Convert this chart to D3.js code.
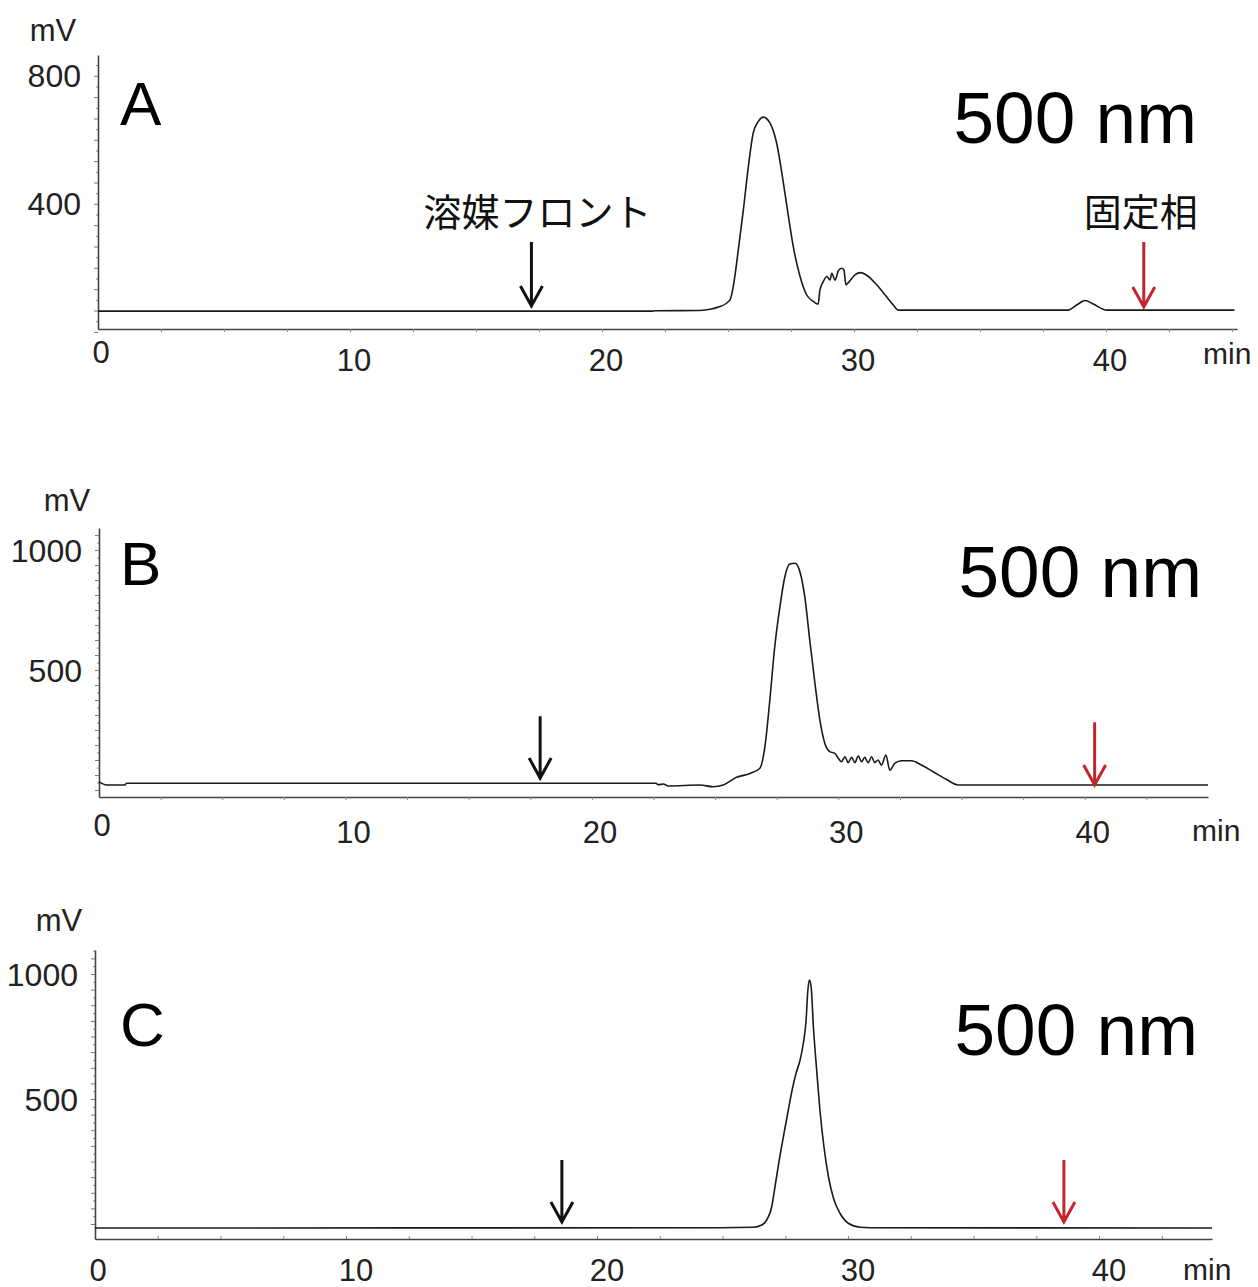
<!DOCTYPE html>
<html>
<head>
<meta charset="utf-8">
<script src="https://cdn.jsdelivr.net/npm/d3@7"></script>
<style>
  body { margin: 0; background: #fff; overflow: hidden; }
  svg { display: block; font-family: "Liberation Sans", Arial, sans-serif; }
</style>
</head>
<body>
<div id="chart"></div>
<script>
// chromatogram A (time in min, signal in mV)
var timeA = [0, 22.0, 22.1, 23.89, 24.68, 25.08, 25.21, 25.41, 25.61, 25.81, 26.0, 26.2, 26.4, 26.67, 26.93,
  27.2, 27.4, 27.59, 27.86, 28.12, 28.39, 28.58, 28.65, 28.78, 28.92, 29.05, 29.12, 29.25, 29.38, 29.51,
  29.6, 29.68, 29.81, 30.04, 30.26, 30.57, 30.9, 31.23, 31.56, 31.76, 38.5, 38.84, 39.17, 39.5, 40.03, 45.1];
var mvA = [65, 65, 66, 67, 79, 100, 142, 256, 381, 517, 621, 657, 671, 652, 590,
  465, 360, 267, 173, 116, 95, 87, 131, 157, 173, 162, 183, 162, 191, 199,
  194, 147, 157, 178, 185, 173, 147, 116, 84, 68, 68, 84, 98, 87, 68, 68];

// chromatogram B
var timeB = [0, 0.31, 1.05, 1.12, 22.6, 22.7, 22.9, 23.1, 24.38, 24.92, 25.33, 25.87, 26.41, 26.81, 27.02,
  27.22, 27.42, 27.63, 27.83, 28.03, 28.24, 28.44, 28.64, 28.84, 29.05, 29.25, 29.45, 29.65, 29.86,
  30.0, 30.13, 30.27, 30.4, 30.54, 30.67, 30.81, 30.94, 31.07, 31.21, 31.35, 31.48, 31.61, 31.75,
  31.93, 32.09, 32.29, 32.56, 32.97, 33.37, 33.85, 34.39, 34.86, 45];
var mvB = [35, 21, 21, 28, 28, 22, 25, 17, 21, 14, 21, 53, 69, 90, 180,
  375, 597, 764, 889, 942, 945, 910, 805, 625, 445, 292, 195, 160, 153,
  132, 118, 139, 114, 136, 114, 142, 118, 136, 114, 139, 114, 125, 104,
  146, 83, 111, 122, 122, 104, 76, 44, 21, 21];

// chromatogram C
var timeC = [0, 24.9, 26.23, 26.56, 26.76, 26.96, 27.09, 27.26, 27.45, 27.62, 27.8, 27.93, 28.09, 28.22,
  28.33, 28.39, 28.46, 28.53, 28.62, 28.75, 28.88, 29.04, 29.22, 29.42, 29.68, 30.01, 30.48, 30.88, 44.5];
var mvC = [-16, -15, -13, -4, 16, 69, 149, 256, 363, 456, 549, 603, 656, 723,
  816, 923, 976, 949, 789, 616, 456, 309, 189, 103, 43, 3, -13, -15, -16];

var xTickLabels = [0, 10, 20, 30, 40];
var yTicksA = [400, 800];
var yTicksB = [500, 1000];
var yTicksC = [500, 1000];
var panelNames = ["A", "B", "C"];
var waveLabel = "500 nm";
var frontLabel = "溶媒フロント";
var phaseLabel = "固定相";
// arrows: [black time, red time]
var arrowTimesA = [17.2, 41.5];
var arrowTimesB = [17.9, 40.4];
var arrowTimesC = [18.6, 38.6];

var width = 1258, height = 1287;
var svg = d3.select("#chart").append("svg")
    .attr("width", width)
    .attr("height", height);

var panels = [
  { t: timeA, v: mvA, yTicks: yTicksA, arrows: arrowTimesA, name: panelNames[0],
    xDom: [0, 45.2], xRange: [98, 1237], yDom: [9, 865], yRange: [329, 55], yMinor: 400 / 6,
    tipMv: [81, 78], topMv: [281, 281], tickDir: 1, labShift: 4,
    mvPos: [53, 30], nameY: 125, waveY: 143, waveX: 1197, xLabY: 371, zeroY: 363, minX: 1203, minY: 364,
    showText: true },
  { t: timeB, v: mvB, yTicks: yTicksB, arrows: arrowTimesB, name: panelNames[1],
    xDom: [0, 45], xRange: [99, 1208], yDom: [-29, 1092], yRange: [797, 528], yMinor: 62.5,
    tipMv: [50, 21], topMv: [308, 283], tickDir: 1, labShift: 8,
    mvPos: [67, 500], nameY: 585, waveY: 597, waveX: 1202, xLabY: 843, zeroY: 836, minX: 1192, minY: 841,
    showText: false },
  { t: timeC, v: mvC, yTicks: yTicksC, arrows: arrowTimesC, name: panelNames[2],
    xDom: [0, 44.5], xRange: [95, 1212], yDom: [-60, 1096], yRange: [1239, 950], yMinor: 62.5,
    tipMv: [8, 8], topMv: [256, 256], tickDir: -1, labShift: 10,
    mvPos: [59, 920], nameY: 1046, waveY: 1055, waveX: 1198, xLabY: 1281, zeroY: 1281, minX: 1183, minY: 1280,
    showText: false }
];

panels.forEach(function(p) {
  var x = d3.scaleLinear().domain(p.xDom).range(p.xRange);
  var y = d3.scaleLinear().domain(p.yDom).range(p.yRange);
  var g = svg.append("g");

  // minor ticks on y axis
  var yMinorVals = d3.range(0, p.yDom[1], p.yMinor);
  var yMicroVals = d3.range(p.yMinor / 2, p.yDom[1], p.yMinor);
  g.append("g")
      .attr("transform", "translate(" + p.xRange[0] + ",0)")
      .call(d3.axisLeft(y).tickValues(yMicroVals).tickSize(2).tickFormat(""))
      .call(function(a) { a.select(".domain").remove(); })
      .selectAll("line").attr("stroke", "#888");
  g.append("g")
      .attr("transform", "translate(" + p.xRange[0] + ",0)")
      .call(d3.axisLeft(y).tickValues(yMinorVals).tickSize(4).tickSizeOuter(0).tickFormat(""))
      .call(function(a) {
        a.select(".domain").attr("stroke", "#444").attr("stroke-width", 1.6);
        a.selectAll("line").attr("stroke", "#777");
      });

  // x axis
  var xMinorVals = d3.range(2.5, p.xDom[1], 2.5);
  var xAxis = p.tickDir > 0 ? d3.axisBottom(x) : d3.axisTop(x);
  g.append("g")
      .attr("transform", "translate(0," + p.yRange[0] + ")")
      .call(xAxis.tickValues(xMinorVals).tickSize(3).tickSizeOuter(0).tickFormat(""))
      .call(function(a) {
        a.select(".domain").attr("stroke", "#444").attr("stroke-width", 1.6);
        a.selectAll("line").attr("stroke", "#888");
      });

  // tick labels
  g.selectAll(".ylab")
    .data(p.yTicks)
    .enter().append("text")
      .attr("x", p.xRange[0] - 17)
      .attr("y", function(d) { return y(d); })
      .attr("dy", "0.36em")
      .attr("text-anchor", "end")
      .attr("font-size", 32)
      .attr("fill", "#222")
      .text(function(d) { return d; });

  g.selectAll(".xlab")
    .data(xTickLabels)
    .enter().append("text")
      .attr("x", function(d) { return x(d) + (d === 0 ? 3 : p.labShift); })
      .attr("y", function(d) { return d === 0 ? p.zeroY : p.xLabY; })
      .attr("text-anchor", "middle")
      .attr("font-size", 31)
      .attr("fill", "#222")
      .text(function(d) { return d; });

  g.append("text")
      .attr("x", p.minX)
      .attr("y", p.minY)
      .attr("font-size", 30)
      .attr("fill", "#222")
      .text("min");

  g.append("text")
      .attr("x", p.mvPos[0])
      .attr("y", p.mvPos[1])
      .attr("dy", "0.36em")
      .attr("text-anchor", "middle")
      .attr("font-size", 31)
      .attr("fill", "#222")
      .text("mV");

  // the trace
  var pts = p.t.map(function(d, i) { return [d, p.v[i]]; });
  var line = d3.line()
      .x(function(d) { return x(d[0]); })
      .y(function(d) { return y(d[1]); })
      .curve(d3.curveMonotoneX);
  g.append("path")
      .datum(pts)
      .attr("d", line)
      .attr("fill", "none")
      .attr("stroke", "#1a1a1a")
      .attr("stroke-width", 1.6);

  // panel letter and wavelength
  g.append("text")
      .attr("x", 120)
      .attr("y", p.nameY)
      .attr("font-size", 62)
      .attr("fill", "#000")
      .text(p.name);
  g.append("text")
      .attr("x", p.waveX)
      .attr("y", p.waveY)
      .attr("text-anchor", "end")
      .attr("font-size", 73)
      .attr("fill", "#000")
      .text(waveLabel);

  // arrows
  var colors = ["#111", "#c1272d"];
  p.arrows.forEach(function(t, i) {
    var ax = x(t), tip = y(p.tipMv[i]), top = y(p.topMv[i]);
    g.append("path")
        .attr("d", "M" + ax + "," + top + "L" + ax + "," + tip +
                   "M" + (ax - 11) + "," + (tip - 20) + "L" + ax + "," + tip + "L" + (ax + 11) + "," + (tip - 20))
        .attr("fill", "none")
        .attr("stroke", colors[i])
        .attr("stroke-width", 3);
  });

  if (p.showText) {
    g.append("text")
        .attr("x", x(p.arrows[0]) + 6)
        .attr("y", 212)
        .attr("dy", "0.36em")
        .attr("text-anchor", "middle")
        .attr("font-family", "'Noto Sans CJK JP', sans-serif")
        .attr("font-size", 38)
        .attr("fill", "#111")
        .text(frontLabel);
    g.append("text")
        .attr("x", x(p.arrows[1]) - 3)
        .attr("y", 212)
        .attr("dy", "0.36em")
        .attr("text-anchor", "middle")
        .attr("font-family", "'Noto Sans CJK JP', sans-serif")
        .attr("font-size", 38)
        .attr("fill", "#111")
        .text(phaseLabel);
  }
});
</script>
</body>
</html>
